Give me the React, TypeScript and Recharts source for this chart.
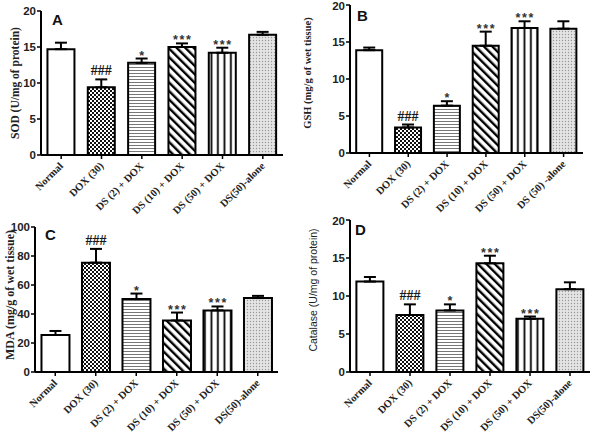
import React from "react";
import { BarChart, Bar, XAxis, YAxis, ErrorBar, Cell, LabelList } from "recharts";

// group labels
const groupsA = ["Normal", "DOX (30)", "DS (2) + DOX", "DS (10) + DOX", "DS (50) + DOX", "DS(50)-alone"];
const groupsB = ["Normal", "DOX (30)", "DS (2) + DOX", "DS (10) + DOX", "DS (50) + DOX", "DS (50) -alone"];

// A: SOD
const sodMeans = [14.7, 9.4, 12.8, 15.0, 14.2, 16.7];
const sodErrs = [0.9, 1.1, 0.6, 0.5, 0.7, 0.4];
// B: GSH
const gshMeans = [13.9, 3.45, 6.4, 14.5, 16.9, 16.8];
const gshErrs = [0.35, 0.4, 0.6, 1.9, 0.9, 1.0];
// C: MDA
const mdaMeans = [25.5, 75.4, 50.3, 35.5, 42.5, 51];
const mdaErrs = [2.8, 9.5, 3.8, 5.5, 2.7, 1.5];
// D: Catalase
const catMeans = [11.9, 7.5, 8.1, 14.3, 7.0, 10.9];
const catErrs = [0.6, 1.4, 0.8, 1.0, 0.3, 0.9];

const signif = ["", "###", "*", "***", "***", ""];
const ticks20 = [0, 5, 10, 15, 20];
const ticks100 = [0, 20, 40, 60, 80, 100];

const patterns = ["white", "check", "hline", "diag", "vline", "dots"];

const SERIF = "'Liberation Serif', 'Times New Roman', serif";
const SANS = "'Liberation Sans', Arial, sans-serif";

const panels = [
  { id: "A", left: 0, top: 0, w: 300, h: 215, plot: { l: 41, r: 283, t: 11, b: 155 }, names: groupsA, means: sodMeans, errs: sodErrs, yMax: 20, ticks: ticks20,
    yLabel: "SOD (U/mg of protein)", yFont: SERIF, yWeight: 700, ySize: 11.5, yX: 15, yY: 83, lx: 52, ly: 25 },
  { id: "B", left: 300, top: 0, w: 300, h: 215, plot: { l: 50, r: 283, t: 5, b: 153 }, names: groupsB, means: gshMeans, errs: gshErrs, yMax: 20, ticks: ticks20,
    yLabel: "GSH (mg/g of wet tissue)", yFont: SERIF, yWeight: 700, ySize: 10.5, yX: 7, yY: 73, lx: 57, ly: 21 },
  { id: "C", left: 0, top: 215, w: 300, h: 220, plot: { l: 35, r: 278, t: 12, b: 157 }, names: groupsA, means: mdaMeans, errs: mdaErrs, yMax: 100, ticks: ticks100,
    yLabel: "MDA (mg/g of wet tissue)", yFont: SERIF, yWeight: 700, ySize: 12, yX: 10, yY: 80, lx: 45, ly: 25 },
  { id: "D", left: 300, top: 215, w: 300, h: 220, plot: { l: 50, r: 290, t: 5, b: 157 }, names: groupsA, means: catMeans, errs: catErrs, yMax: 20, ticks: ticks20,
    yLabel: "Catalase (U/mg of protein)", yFont: SANS, yWeight: 400, ySize: 10.5, yX: 13, yY: 75, lx: 55, ly: 20 },
];

function Patterns({ id }: { id: string }) {
  return (
    <defs>
      <pattern id={`${id}-white`} width="4" height="4" patternUnits="userSpaceOnUse">
        <rect width="4" height="4" fill="#fff" />
      </pattern>
      <pattern id={`${id}-check`} width="4" height="4" patternUnits="userSpaceOnUse">
        <rect width="4" height="4" fill="#fff" />
        <rect width="2" height="2" fill="#111" />
        <rect x="2" y="2" width="2" height="2" fill="#111" />
      </pattern>
      <pattern id={`${id}-hline`} width="4" height="3" patternUnits="userSpaceOnUse">
        <rect width="4" height="3" fill="#fff" />
        <rect y="1" width="4" height="1" fill="#777" />
      </pattern>
      <pattern id={`${id}-diag`} width="6" height="6" patternUnits="userSpaceOnUse" patternTransform="rotate(-45)">
        <rect width="6" height="6" fill="#fff" />
        <rect width="2.4" height="6" fill="#000" />
      </pattern>
      <pattern id={`${id}-vline`} width="6.5" height="4" patternUnits="userSpaceOnUse">
        <rect width="6.5" height="4" fill="#fff" />
        <rect x="2.5" width="1.8" height="4" fill="#000" />
      </pattern>
      <pattern id={`${id}-dots`} width="3" height="3" patternUnits="userSpaceOnUse">
        <rect width="3" height="3" fill="#e4e4e4" />
        <circle cx="1.5" cy="1.5" r="0.7" fill="#999" />
      </pattern>
    </defs>
  );
}

function XTick({ x, y, payload }: any) {
  return (
    <g transform={`translate(${x},${y + 3})`}>
      <text transform="rotate(-45)" textAnchor="end" dy="0.35em" fontFamily={SERIF} fontWeight={700} fontSize={10.5} fill="#222">
        {payload.value}
      </text>
    </g>
  );
}

function Panel({ p }: { p: (typeof panels)[number] }) {
  const data = p.names.map((name, i) => ({
    name,
    value: p.means[i],
    err: [0, p.errs[i]],
    sig: signif[i],
  }));
  const yAxisW = 30;
  const sigLabel = (props: any) => {
    const { x, y, width, height, index } = props;
    const txt = signif[index];
    if (!txt) return null;
    const perUnit = height / p.means[index];
    const capY = y - p.errs[index] * perUnit;
    const cx = x + width / 2;
    if (txt.startsWith("#")) {
      return (
        <text x={cx} y={capY - 4} textAnchor="middle" fontFamily={SERIF} fontWeight={700} fontSize={14} fill="#1a1a1a" stroke="none">
          {txt}
        </text>
      );
    }
    const n = txt.length;
    const gap = 6.5;
    return (
      <g>
        {Array.from(txt).map((c, k) => (
          <text
            key={k}
            x={cx + (k - (n - 1) / 2) * gap}
            y={capY + 1}
            textAnchor="middle"
            fontFamily={SANS}
            fontWeight={700}
            fontSize={12.5}
            fill="#333"
            stroke="none"
          >
            {c}
          </text>
        ))}
      </g>
    );
  };
  return (
    <div style={{ position: "absolute", left: p.left, top: p.top, width: p.w, height: p.h }}>
      <BarChart
        width={p.w}
        height={p.h}
        data={data}
        barCategoryGap="16%"
        margin={{ top: p.plot.t, right: p.w - p.plot.r, bottom: 0, left: p.plot.l - yAxisW }}
      >
        <Patterns id={p.id} />
        <XAxis
          dataKey="name"
          interval={0}
          height={p.h - p.plot.b}
          tickSize={4}
          tickMargin={2}
          axisLine={{ stroke: "#000", strokeWidth: 2 }}
          tickLine={{ stroke: "#000", strokeWidth: 1.5 }}
          tick={(props: any) => <XTick {...props} />}
        />
        <YAxis
          type="number"
          domain={[0, p.yMax]}
          ticks={p.ticks}
          width={yAxisW}
          tickSize={4}
          tickMargin={1}
          allowDataOverflow
          axisLine={{ stroke: "#000", strokeWidth: 2 }}
          tickLine={{ stroke: "#000", strokeWidth: 1.5 }}
          tick={{ fontFamily: SANS, fontWeight: 700, fontSize: 11.5, fill: "#222" }}
        />
        <Bar dataKey="value" isAnimationActive={false} stroke="#000" strokeWidth={2}>
          {data.map((d, i) => (
            <Cell key={d.name} fill={`url(#${p.id}-${patterns[i]})`} />
          ))}
          <ErrorBar dataKey="err" direction="y" width={6} stroke="#000" strokeWidth={2} isAnimationActive={false} />
          <LabelList dataKey="sig" content={sigLabel} />
        </Bar>
        <text
          x={p.yX}
          y={p.yY}
          transform={`rotate(-90 ${p.yX} ${p.yY})`}
          textAnchor="middle"
          dominantBaseline="central"
          fontFamily={p.yFont}
          fontWeight={p.yWeight}
          fontSize={p.ySize}
          fill="#222"
        >
          {p.yLabel}
        </text>
        <text x={p.lx} y={p.ly} fontFamily={SANS} fontWeight={700} fontSize={15} fill="#111">
          {p.id}
        </text>
      </BarChart>
    </div>
  );
}

export default function App() {
  return (
    <div style={{ position: "absolute", left: 0, top: 0, width: 600, height: 435, background: "#fff" }}>
      {panels.map((p) => (
        <Panel key={p.id} p={p} />
      ))}
    </div>
  );
}
